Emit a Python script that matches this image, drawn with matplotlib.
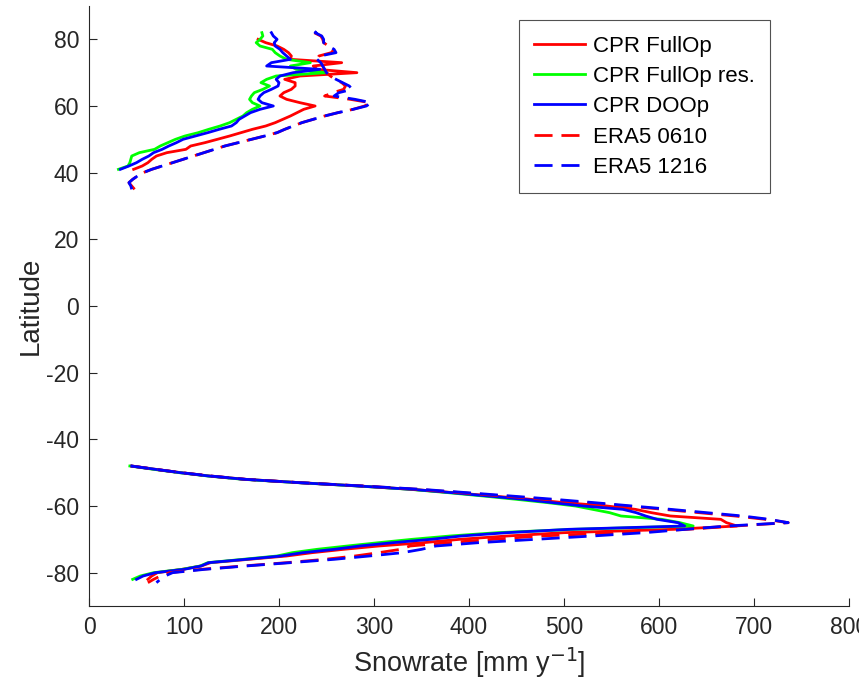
import numpy as np
import matplotlib
matplotlib.use("Agg")
import matplotlib.pyplot as plt

nan = np.nan

# ---------------- Data ----------------
# Northern hemisphere, CPR products (latitude 41..82)
lat_n_cpr = np.arange(41, 83)
cpr_fullop_n = [47, 56, 62, 66, 71, 82, 102, 107, 122, 135,
                148, 160, 172, 186, 196, 204, 212, 219, 226, 238,
                222, 208, 201, 205, 213, 217, 217, 206, 222, 282,
                240, 236, 266, 212, 213, 210, 205, 198, 186, 178,
                nan, nan]
cpr_fullop_res_n = [31, 41, 43, 44, 45, 53, 69, 75, 83, 91,
                    101, 115, 126, 138, 148, 155, 162, 166, 172, 180,
                    172, 169, 171, 174, 183, 190, 181, 187, 197, 250,
                    218, 212, 233, 208, 201, 196, 193, 180, 176, 180,
                    183, 182]
cpr_doop_n = [33, 42, 50, 56, 63, 68, 77, 84, 92, 99,
              112, 125, 137, 150, 155, 158, 164, 170, 180, 194,
              182, 178, 180, 184, 192, 199, 200, 197, 201, 215,
              243, 187, 192, 212, 208, 204, 201, 196, 195, 198,
              194, 192]

# Northern hemisphere, ERA5 (latitude 35..83)
lat_n_era = np.arange(35, 84)
era5_0610_n = [48, 45, 42, 46, 51, 57, 66, 77, 88, 99,
               110, 121, 132, 143, 157, 171, 185, 198, 206, 215,
               224, 236, 248, 262, 278, 290, 296, 275, 248, 257,
               268, 270, 266, 259, 254, 250, 248, 246, 244, 240,
               242, 255, 258, 252, 247, 246, 244, 237, 241]
era5_1216_n = [45, 44, 42, 46, 51, 57, 66, 77, 88, 99,
               110, 121, 132, 143, 157, 171, 185, 198, 206, 215,
               224, 236, 248, 262, 278, 292, 297, 280, 258, 263,
               277, 274, 267, 260, 254, 250, 248, 246, 244, 240,
               243, 260, 258, 252, 247, 247, 245, 238, 242]

# Southern hemisphere (latitude -48..-83)
lat_s = np.arange(-48, -84, -1)
cpr_fullop_s = [45, 70, 97, 127, 165, 222, 285, 340, 384, 425,
                465, 500, 545, 575, 592, 612, 665, 671, 682,
                615, 500, 440, 390, 352, 305, 268, 235, 208, 168,
                128, 118, 98, 72, 66, 62, nan]
cpr_fullop_res_s = [43, 68, 95, 125, 162, 220, 283, 338, 378, 415,
                    450, 483, 512, 530, 548, 560, 603, 622, 636,
                    510, 430, 380, 340, 305, 272, 240, 214, 198, 162,
                    125, 117, 98, 68, 54, 46, nan]
cpr_doop_s = [45, 70, 96, 126, 164, 221, 284, 340, 382, 420,
              458, 488, 520, 562, 576, 586, 598, 620, 627,
              505, 440, 392, 360, 320, 285, 258, 225, 202, 165,
              126, 118, 100, 70, 57, 50, nan]
era5_0610_s = [44, 70, 97, 128, 165, 222, 288, 346, 392, 436,
               480, 522, 565, 605, 642, 680, 712, 736,
               680, 630, 560, 475, 425, 378, 338, 328, 305, 280,
               248, 208, 162, 118, 85, 75, 68, 62]
era5_1216_s = [44, 70, 97, 128, 165, 222, 288, 350, 398, 444,
               490, 532, 572, 612, 650, 688, 716, 736,
               672, 628, 585, 530, 470, 410, 365, 350, 330, 295,
               258, 212, 165, 122, 88, 80, 75, 71]

labels = ["CPR FullOp", "CPR FullOp res.", "CPR DOOp", "ERA5 0610", "ERA5 1216"]
x_ticks = [0, 100, 200, 300, 400, 500, 600, 700, 800]
y_ticks = [-80, -60, -40, -20, 0, 20, 40, 60, 80]

# ---------------- Plot ----------------
plt.rcParams['font.family'] = ['Liberation Sans', 'DejaVu Sans']
plt.rcParams['axes.unicode_minus'] = False
axcol = '#262626'

fig = plt.figure(figsize=(8.59, 6.89), dpi=100)
ax = fig.add_axes([89 / 859, 83 / 689, 760 / 859, 600 / 689])

lw = 2.0
dash = (0, (6.5, 3.2))

series = [
    (cpr_fullop_n, cpr_fullop_s, lat_n_cpr, '#ff0000', '-'),
    (cpr_fullop_res_n, cpr_fullop_res_s, lat_n_cpr, '#00ff00', '-'),
    (cpr_doop_n, cpr_doop_s, lat_n_cpr, '#0000ff', '-'),
    (era5_0610_n, era5_0610_s, lat_n_era, '#ff0000', dash),
    (era5_1216_n, era5_1216_s, lat_n_era, '#0000ff', dash),
]
for (xn, xs, latn, col, ls), lab in zip(series, labels):
    ax.plot(xn, latn, color=col, lw=lw, ls=ls, label=lab)
    ax.plot(xs, lat_s, color=col, lw=lw, ls=ls)

ax.set_xlim(0, 800)
ax.set_ylim(-90, 90)
ax.set_xticks(x_ticks)
ax.set_yticks(y_ticks)
ax.tick_params(direction='in', length=6, width=0.8, colors=axcol,
               labelsize=16.5, labelcolor=axcol, pad=7)
for s in ['top', 'right']:
    ax.spines[s].set_visible(False)
for s in ['left', 'bottom']:
    ax.spines[s].set_color(axcol)
    ax.spines[s].set_linewidth(0.8)

ax.set_xlabel('Snowrate [mm y$^{-1}$]', fontsize=19.5, color=axcol, labelpad=5)
ax.set_ylabel('Latitude', fontsize=20, color=axcol, labelpad=2)

leg = ax.legend(loc='upper right', bbox_to_anchor=(681 / 760, (606 - 20) / 600),
                fontsize=16, frameon=True, fancybox=False, edgecolor=axcol,
                handlelength=2.3, handletextpad=0.32, borderpad=0.7,
                labelspacing=0.42, borderaxespad=0)
leg.get_frame().set_linewidth(0.8)

fig.savefig('out.png', dpi=100, facecolor='white')
